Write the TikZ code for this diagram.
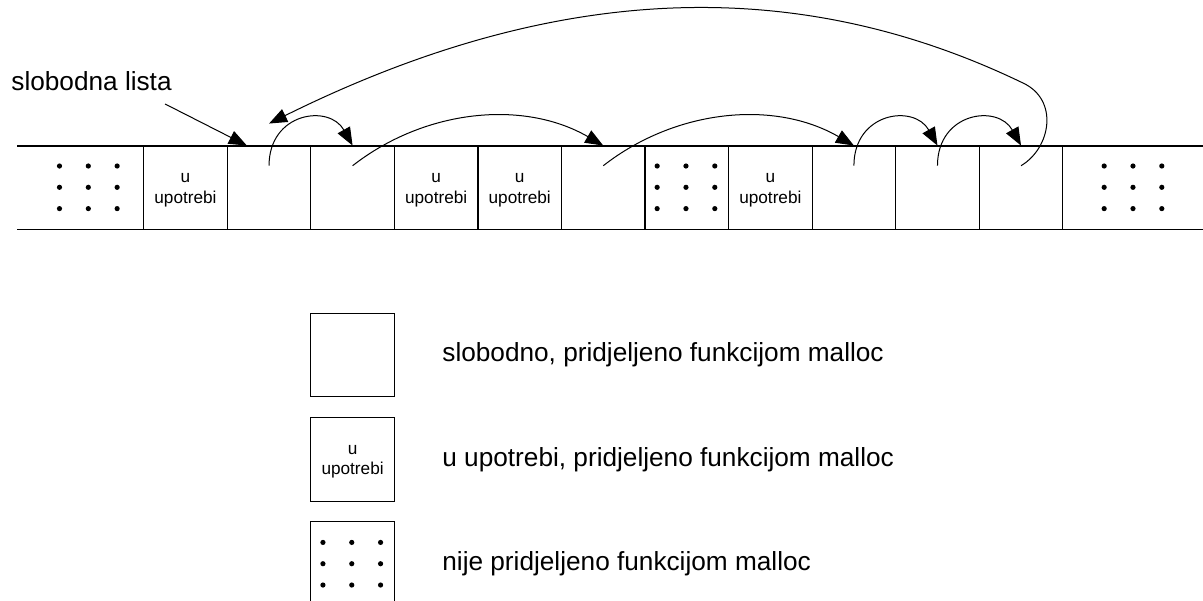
\documentclass[tikz,border=0pt]{standalone}
\usepackage{fontspec}
\setmainfont{Liberation Sans}
\usetikzlibrary{arrows.meta}

% 3x3 grid of dots for memory not taken by malloc
\newcommand{\dotgrid}[2]{%
    \foreach \i in {-0.345,0,0.345}
        \foreach \j in {-0.255,0,0.255}
            \fill (#1+\i,#2+\j) circle (1.3pt);
}

\begin{document}
\begin{tikzpicture}[x=41.775pt, y=41.775pt,
        cell/.style={minimum size=41.775pt, inner sep=0pt},
        usedtxt/.style={align=center, inner sep=0pt, yshift=-1.2pt, font=\fontsize{8.6}{10.2}\selectfont},
        legbox/.style={draw, line width=0.5pt, minimum size=41.775pt, inner sep=0pt},
        legtxt/.style={anchor=west, inner sep=0pt, font=\fontsize{13.1}{15.7}\selectfont},
        link/.style={-{Triangle[length=9pt,width=7pt]}, line width=0.5pt}]

        \useasboundingbox (-1.720,-4.446) rectangle (12.678,2.747);

        % Memory row
        \draw[line width=0.6pt] (-1.516,0) -- (12.7,0);
        \draw[line width=0.6pt] (-1.516,1) -- (12.7,1);
        \foreach \x in {0,...,11}
            \draw[line width=0.6pt] (\x,0) -- (\x,1);

        % Cells
        \foreach \k in {0,...,10}
            \node[cell] (c\k) at (\k+0.5,0.5) {};
        \node[usedtxt] (u0) at (c0) {u\\upotrebi};
        \node[usedtxt] (u3) at (c3) {u\\upotrebi};
        \node[usedtxt] (u4) at (c4) {u\\upotrebi};
        \node[usedtxt] (u7) at (c7) {u\\upotrebi};

        % Not allocated
        \dotgrid{-0.663}{0.505}
        \dotgrid{6.49}{0.505}
        \dotgrid{11.84}{0.505}

        % Free list
        \node[legtxt, anchor=base west] (lista) at (-1.588,1.661) {slobodna lista};
        \draw[link] ([xshift=-3.5pt,yshift=-6.3pt]lista.south east) -- ([xshift=10pt]c1.north west);
        \draw[link] ([yshift=11pt]c1.center) .. controls +(0,0.64) and +(-0.28,0.5) .. (c2.north);
        \draw[link] ([yshift=11pt]c2.center) .. controls +(0.87,0.68) and +(-0.95,0.55) .. (c5.north);
        \draw[link] ([yshift=11pt]c5.center) .. controls +(0.87,0.68) and +(-0.95,0.55) .. (c8.north);
        \draw[link] ([yshift=11pt]c8.center) .. controls +(0,0.64) and +(-0.28,0.5) .. (c9.north);
        \draw[link] ([yshift=11pt]c9.center) .. controls +(0,0.64) and +(-0.28,0.5) .. (c10.north);
        \coordinate (bend) at (10.524,1.753);
        \draw[link] ([yshift=11pt]c10.center) .. controls +(0.36,0.215) and +(0.43,-0.2) .. (bend)
            .. controls +(-2.67,1.29) and +(3.47,1.72) .. ([yshift=11pt]c1.north);

        % Legend
        \node[legbox] (leg1) at (2.5,-1.5) {};
        \node[legbox] (leg2) at (2.5,-2.75) {};
        \node[usedtxt] (leg2txt) at (leg2) {u\\upotrebi};
        \node[legbox] (leg3) at (2.5,-4.0) {};
        \dotgrid{2.49}{-4.0}
        \node[legtxt] (txt1) at (3.57,-1.5) {slobodno, pridjeljeno funkcijom malloc};
        \node[legtxt] (txt2) at (3.57,-2.75) {u upotrebi, pridjeljeno funkcijom malloc};
        \node[legtxt] (txt3) at (3.57,-4.0) {nije pridjeljeno funkcijom malloc};
    \end{tikzpicture}
\end{document}
